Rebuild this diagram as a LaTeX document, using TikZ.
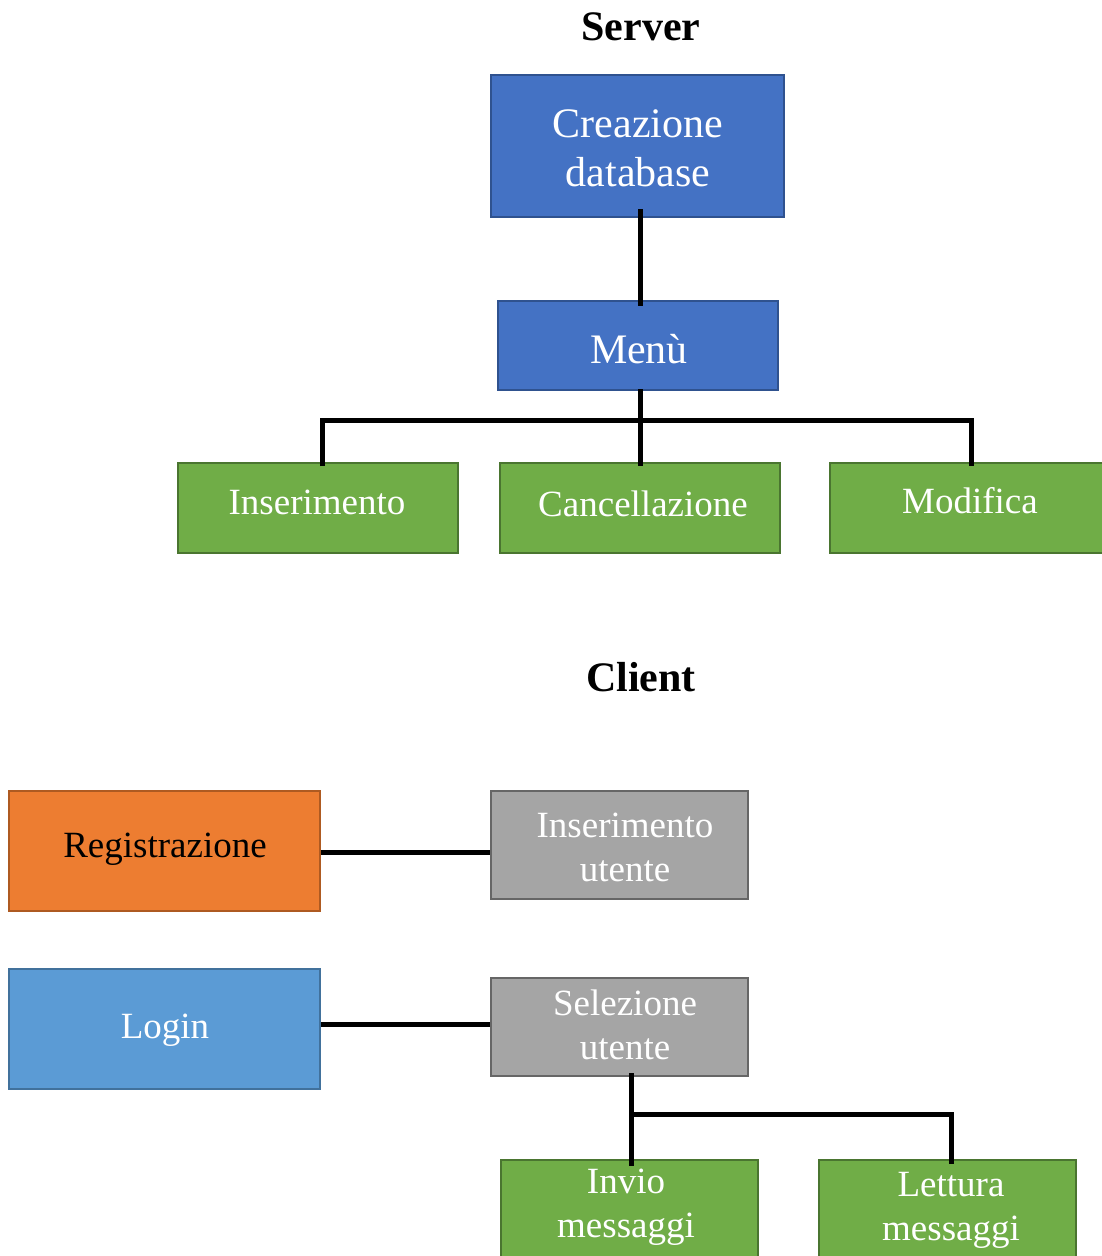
\documentclass[tikz,border=0pt]{standalone}
\usepackage{fontspec}
\setmainfont{Liberation Serif}
\definecolor{dblue}{HTML}{4472C4}
\definecolor{dblueb}{HTML}{2F528F}
\definecolor{lblue}{HTML}{5B9BD5}
\definecolor{lblueb}{HTML}{41719C}
\definecolor{grn}{HTML}{70AD47}
\definecolor{grnb}{HTML}{4A7530}
\definecolor{org}{HTML}{ED7D31}
\definecolor{orgb}{HTML}{AE5A21}
\definecolor{gry}{HTML}{A5A5A5}
\definecolor{gryb}{HTML}{666666}
\tikzset{
  box/.style={rectangle, line width=2pt, inner sep=0pt},
  bluebox/.style={box, fill=dblue, draw=dblueb},
  greenbox/.style={box, fill=grn, draw=grnb},
  orangebox/.style={box, fill=org, draw=orgb},
  graybox/.style={box, fill=gry, draw=gryb},
  loginbox/.style={box, fill=lblue, draw=lblueb},
  bigtxt/.style={text=white, align=center, font=\fontsize{42}{49}\selectfont},
  txt/.style={text=white, align=center, font=\fontsize{37}{44}\selectfont},
  title/.style={font=\fontsize{42}{49}\selectfont\bfseries},
  conn/.style={line width=5pt}
}
\begin{document}
\begin{tikzpicture}[x=1pt,y=-1pt]
\useasboundingbox (0,0) rectangle (1102,1256);
\clip (0,0) rectangle (1102,1256);
\fill[white] (0,0) rectangle (1102,1256);

% Server
\node[title] (server) at (641,27) {Server};
\node[bluebox, minimum width=293, minimum height=142] (crea) at (637.5,146) {};
\node[bigtxt] (creat) at (638,148) {Creazione\\database};
\node[bluebox, minimum width=280, minimum height=89] (menu) at (638,345.5) {};
\node[bigtxt] (menut) at (639,349) {Menù};

\node[greenbox, minimum width=280, minimum height=90] (ins) at (318,508) {};
\node[txt] (inst) at (317,502) {Inserimento};
\node[greenbox, minimum width=280, minimum height=90] (canc) at (640,508) {};
\node[txt] (canct) at (643,504) {Cancellazione};
\node[greenbox, minimum width=280, minimum height=90] (mod) at (970,508) {};
\node[txt] (modt) at (970,501) {Modifica};

\coordinate (bus) at (640,420);
\draw[conn] ([yshift=9pt]crea.south -| bus) -- ([yshift=-6pt]menu.north -| bus);
\draw[conn] ([yshift=2pt]menu.south -| bus) -- ([yshift=-4pt]canc.north -| bus);
\draw[conn] ([xshift=4pt,yshift=-4pt]ins.north) -- ([xshift=4pt]ins.north |- bus) -- ([xshift=1pt]mod.north |- bus) -- ([xshift=1pt,yshift=-4pt]mod.north);

% Client
\node[title] (client) at (641,677) {Client};
\node[orangebox, minimum width=311, minimum height=120] (reg) at (164.5,851) {};
\node[txt, text=black] (regt) at (165,849) {Registrazione};
\node[graybox, minimum width=257, minimum height=108] (insu) at (619.5,845) {};
\node[txt] (insut) at (625,847) {Inserimento\\utente};

\node[loginbox, minimum width=311, minimum height=120] (login) at (164.5,1029) {};
\node[txt] (logint) at (165,1030) {Login};
\node[graybox, minimum width=257, minimum height=98] (sel) at (619.5,1027) {};
\node[txt] (selt) at (625,1025) {Selezione\\utente};

\draw[conn] ([yshift=-1pt]reg.east) -- ([yshift=-1pt]reg.east -| insu.west);
\draw[conn] ([yshift=5pt]login.east) -- ([yshift=5pt]login.east -| sel.west);

\node[greenbox, minimum width=257, minimum height=110] (invio) at (629.5,1215) {};
\node[txt] (inviot) at (626,1207) {Invio\\messaggi};
\node[greenbox, minimum width=257, minimum height=110] (lett) at (947.5,1215) {};
\node[txt] (lettt) at (951,1210) {Lettura\\messaggi};

\coordinate (bus2) at (631,1114);
\draw[conn] ([xshift=1.5pt,yshift=4pt]sel.south -| invio.north) -- ([xshift=1.5pt,yshift=-7pt]invio.north);
\draw[conn] (bus2) -- ([xshift=3.5pt]lett.north |- bus2) -- ([xshift=3.5pt,yshift=-5pt]lett.north);
\end{tikzpicture}
\end{document}
